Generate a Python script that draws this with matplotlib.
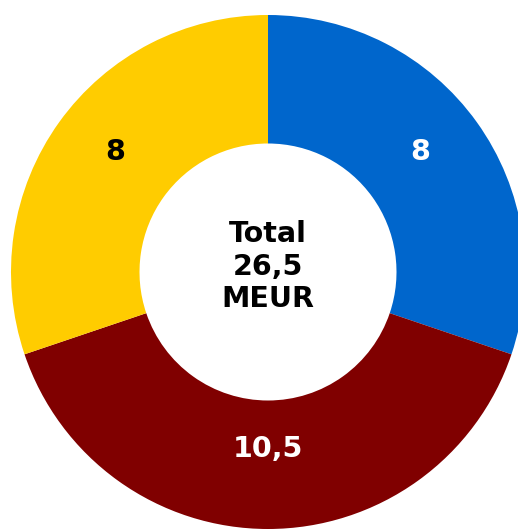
import numpy as np
import matplotlib
matplotlib.use("Agg")
import matplotlib.pyplot as plt

# slice data, clockwise from 12 o'clock
values = [8, 10.5, 8]
labels = ["8", "10,5", "8"]
colors = ["#0066CC", "#800000", "#FFCC00"]
label_colors = ["white", "white", "black"]
center_text = "Total\n26,5\nMEUR"

fig = plt.figure(figsize=(5.18, 5.31), dpi=100)
# axes in figure-fraction so the ring sits where the reference has it
W, H = 518, 531
r_px = 257
cx, cy = 268, 531 - 272
ax = fig.add_axes([(cx - r_px) / W, (cy - r_px) / H, 2 * r_px / W, 2 * r_px / H])

wedges, _ = ax.pie(values, colors=colors, startangle=90, counterclock=False,
                   radius=1.0, wedgeprops=dict(width=0.5, linewidth=0))

total = sum(values)
start = 90.0
for v, lab, col in zip(values, labels, label_colors):
    span = v / total * 360
    mid = np.deg2rad(start - span / 2)
    start -= span
    r = 0.73
    # labels sit a little above the ring centre line in the original
    ax.text(r * np.cos(mid), r * np.sin(mid) + 0.043, lab, color=col, fontsize=20.5,
            fontweight="bold", ha="center", va="center", family="DejaVu Sans")

ax.text(0, 0.02, center_text, ha="center", va="center", fontsize=20.5,
        fontweight="bold", color="black", linespacing=1.2, family="DejaVu Sans")

ax.set_xlim(-1, 1)
ax.set_ylim(-1, 1)
ax.set_aspect("equal")
ax.axis("off")

fig.savefig("out.png", dpi=100)
